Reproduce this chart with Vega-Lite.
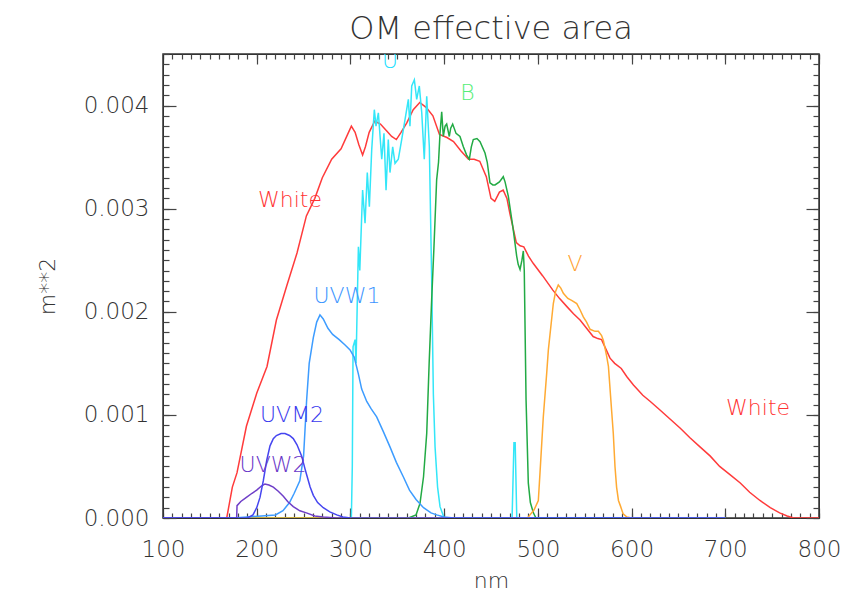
{
  "$schema": "https://vega.github.io/schema/vega-lite/v6.json",
  "autosize": "none",
  "width": 656,
  "height": 464,
  "padding": {"left": 163, "top": 54, "right": 42, "bottom": 75},
  "background": "white",
  "title": {"text": "OM effective area", "fontSize": 32, "font": "DejaVu Sans", "fontWeight": 200, "color": "#333", "anchor": "middle", "offset": 7},
  "config": {
    "view": {"stroke": "#333", "strokeWidth": 1.5},
    "axis": {"grid": false, "domainColor": "#333", "tickColor": "#444", "labelColor": "#333", "titleColor": "#333", "labelFont": "DejaVu Sans", "titleFont": "DejaVu Sans", "labelFontSize": 23, "titleFontSize": 22, "labelFontWeight": 200, "titleFontWeight": 200, "tickWidth": 1.2}
  },
  "datasets": {
    "white": [
      {"nm": 100, "a": 0}, {"nm": 168, "a": 0}, {"nm": 174, "a": 0.0003}, {"nm": 179, "a": 0.00044}, {"nm": 189, "a": 0.00089}, {"nm": 200, "a": 0.00121}, {"nm": 211, "a": 0.00147}, {"nm": 221, "a": 0.00192}, {"nm": 232, "a": 0.00225}, {"nm": 243, "a": 0.00257}, {"nm": 253, "a": 0.00293}, {"nm": 262, "a": 0.0031}, {"nm": 270, "a": 0.0033}, {"nm": 280, "a": 0.00348}, {"nm": 290, "a": 0.00358}, {"nm": 297, "a": 0.00372}, {"nm": 301, "a": 0.0038}, {"nm": 305, "a": 0.00374}, {"nm": 309, "a": 0.00362}, {"nm": 313, "a": 0.00352}, {"nm": 316, "a": 0.0036}, {"nm": 320, "a": 0.00374}, {"nm": 326, "a": 0.00385}, {"nm": 332, "a": 0.00382}, {"nm": 339, "a": 0.00375}, {"nm": 344, "a": 0.0037}, {"nm": 349, "a": 0.00367}, {"nm": 354, "a": 0.00374}, {"nm": 360, "a": 0.00383}, {"nm": 367, "a": 0.00396}, {"nm": 374, "a": 0.00403}, {"nm": 381, "a": 0.00398}, {"nm": 388, "a": 0.0039}, {"nm": 395, "a": 0.00372}, {"nm": 403, "a": 0.00369}, {"nm": 410, "a": 0.00365}, {"nm": 418, "a": 0.00356}, {"nm": 426, "a": 0.00348}, {"nm": 432, "a": 0.00348}, {"nm": 438, "a": 0.00346}, {"nm": 445, "a": 0.00331}, {"nm": 450, "a": 0.0031}, {"nm": 454, "a": 0.00307}, {"nm": 459, "a": 0.00316}, {"nm": 463, "a": 0.00318}, {"nm": 467, "a": 0.0031}, {"nm": 470, "a": 0.00296}, {"nm": 477, "a": 0.00267}, {"nm": 481, "a": 0.00264}, {"nm": 485, "a": 0.00263}, {"nm": 490, "a": 0.00254}, {"nm": 495, "a": 0.00247}, {"nm": 505, "a": 0.00235}, {"nm": 516, "a": 0.00221}, {"nm": 523, "a": 0.00213}, {"nm": 531, "a": 0.00205}, {"nm": 538, "a": 0.00198}, {"nm": 545, "a": 0.00192}, {"nm": 552, "a": 0.00184}, {"nm": 559, "a": 0.00176}, {"nm": 564, "a": 0.00174}, {"nm": 568, "a": 0.00173}, {"nm": 572, "a": 0.00165}, {"nm": 577, "a": 0.00155}, {"nm": 582, "a": 0.0015}, {"nm": 589, "a": 0.00145}, {"nm": 595, "a": 0.00137}, {"nm": 602, "a": 0.00129}, {"nm": 612, "a": 0.00119}, {"nm": 620, "a": 0.00113}, {"nm": 630, "a": 0.00105}, {"nm": 641, "a": 0.00096}, {"nm": 652, "a": 0.00087}, {"nm": 662, "a": 0.00078}, {"nm": 673, "a": 0.00069}, {"nm": 684, "a": 0.0006}, {"nm": 694, "a": 0.0005}, {"nm": 705, "a": 0.00042}, {"nm": 716, "a": 0.00034}, {"nm": 726, "a": 0.00025}, {"nm": 737, "a": 0.00017}, {"nm": 748, "a": 0.0001}, {"nm": 758, "a": 0.00005}, {"nm": 766, "a": 0.00002}, {"nm": 773, "a": 0}, {"nm": 800, "a": 0}
    ],
    "u": [
      {"nm": 100, "a": 0}, {"nm": 301, "a": 0}, {"nm": 302, "a": 0.0005}, {"nm": 302.8, "a": 0.00166}, {"nm": 305, "a": 0.00173}, {"nm": 306, "a": 0.0015}, {"nm": 308.5, "a": 0.00263}, {"nm": 310, "a": 0.0024}, {"nm": 313, "a": 0.00318}, {"nm": 315.6, "a": 0.00286}, {"nm": 318, "a": 0.00335}, {"nm": 320.2, "a": 0.00302}, {"nm": 322.7, "a": 0.00357}, {"nm": 325.5, "a": 0.00396}, {"nm": 327.3, "a": 0.0038}, {"nm": 329.8, "a": 0.00393}, {"nm": 333.4, "a": 0.00348}, {"nm": 335.8, "a": 0.00373}, {"nm": 338, "a": 0.00318}, {"nm": 340.4, "a": 0.00367}, {"nm": 342.2, "a": 0.00335}, {"nm": 345.1, "a": 0.0036}, {"nm": 347.6, "a": 0.00344}, {"nm": 351.1, "a": 0.00348}, {"nm": 354.7, "a": 0.00367}, {"nm": 358.2, "a": 0.00386}, {"nm": 361.8, "a": 0.00406}, {"nm": 363.5, "a": 0.0038}, {"nm": 365.4, "a": 0.00419}, {"nm": 368.2, "a": 0.00425}, {"nm": 370.7, "a": 0.00406}, {"nm": 373.5, "a": 0.00419}, {"nm": 376.1, "a": 0.00393}, {"nm": 378.8, "a": 0.00348}, {"nm": 381.4, "a": 0.00409}, {"nm": 384.2, "a": 0.0036}, {"nm": 386.7, "a": 0.00231}, {"nm": 388.5, "a": 0.0012}, {"nm": 390.3, "a": 0.00069}, {"nm": 393, "a": 0.0003}, {"nm": 395.6, "a": 0.00011}, {"nm": 400, "a": 0}, {"nm": 472.5, "a": 0}, {"nm": 474.5, "a": 0.00073}, {"nm": 475.8, "a": 0.00073}, {"nm": 477.5, "a": 0}, {"nm": 700, "a": 0}
    ],
    "b": [
      {"nm": 100, "a": 0}, {"nm": 362, "a": 0}, {"nm": 370, "a": 0.00003}, {"nm": 374.2, "a": 0.00014}, {"nm": 378, "a": 0.0004}, {"nm": 381.4, "a": 0.00082}, {"nm": 384, "a": 0.0015}, {"nm": 386.7, "a": 0.00212}, {"nm": 389, "a": 0.0026}, {"nm": 392, "a": 0.00328}, {"nm": 394, "a": 0.00345}, {"nm": 395.6, "a": 0.00373}, {"nm": 397.4, "a": 0.00394}, {"nm": 399.1, "a": 0.0037}, {"nm": 401, "a": 0.0038}, {"nm": 402.7, "a": 0.00382}, {"nm": 405.5, "a": 0.0037}, {"nm": 407, "a": 0.00378}, {"nm": 409.1, "a": 0.00382}, {"nm": 412.7, "a": 0.00373}, {"nm": 416.9, "a": 0.0037}, {"nm": 420.5, "a": 0.0036}, {"nm": 424, "a": 0.00352}, {"nm": 426.9, "a": 0.00348}, {"nm": 429, "a": 0.0036}, {"nm": 431.1, "a": 0.00367}, {"nm": 435, "a": 0.00368}, {"nm": 438.3, "a": 0.00365}, {"nm": 443.6, "a": 0.00354}, {"nm": 446, "a": 0.00345}, {"nm": 448.9, "a": 0.00325}, {"nm": 452, "a": 0.00323}, {"nm": 454.3, "a": 0.00323}, {"nm": 459, "a": 0.00326}, {"nm": 463.1, "a": 0.00331}, {"nm": 465, "a": 0.00326}, {"nm": 468.5, "a": 0.00312}, {"nm": 473.2, "a": 0.00283}, {"nm": 477.4, "a": 0.00254}, {"nm": 479, "a": 0.00246}, {"nm": 481, "a": 0.00241}, {"nm": 483, "a": 0.0025}, {"nm": 484.5, "a": 0.00259}, {"nm": 485.5, "a": 0.0024}, {"nm": 487.4, "a": 0.00115}, {"nm": 489.8, "a": 0.00034}, {"nm": 492, "a": 0.00015}, {"nm": 495.2, "a": 0.00005}, {"nm": 498, "a": 0}, {"nm": 700, "a": 0}
    ],
    "v": [
      {"nm": 100, "a": 0}, {"nm": 489, "a": 0}, {"nm": 491.6, "a": 0.00003}, {"nm": 496, "a": 0.00008}, {"nm": 500.5, "a": 0.00017}, {"nm": 502.3, "a": 0.00044}, {"nm": 505.8, "a": 0.00098}, {"nm": 509.4, "a": 0.0014}, {"nm": 511.2, "a": 0.00163}, {"nm": 516.5, "a": 0.00208}, {"nm": 519, "a": 0.0022}, {"nm": 521.8, "a": 0.00226}, {"nm": 524.5, "a": 0.00223}, {"nm": 527.2, "a": 0.00218}, {"nm": 532, "a": 0.00213}, {"nm": 536, "a": 0.00211}, {"nm": 541.5, "a": 0.00208}, {"nm": 545, "a": 0.00202}, {"nm": 548.5, "a": 0.00195}, {"nm": 552, "a": 0.0019}, {"nm": 555.7, "a": 0.00183}, {"nm": 561, "a": 0.00181}, {"nm": 564.6, "a": 0.00181}, {"nm": 568, "a": 0.00177}, {"nm": 570, "a": 0.00172}, {"nm": 573.4, "a": 0.00157}, {"nm": 575.3, "a": 0.00147}, {"nm": 578.8, "a": 0.00103}, {"nm": 580.5, "a": 0.00082}, {"nm": 582.3, "a": 0.0005}, {"nm": 584, "a": 0.0003}, {"nm": 586, "a": 0.00017}, {"nm": 588, "a": 0.00012}, {"nm": 591, "a": 0.00004}, {"nm": 595, "a": 0.00001}, {"nm": 600, "a": 0}, {"nm": 700, "a": 0}
    ],
    "uvw1": [
      {"nm": 100, "a": 0}, {"nm": 175, "a": 0}, {"nm": 190, "a": 0.00001}, {"nm": 205, "a": 0.00002}, {"nm": 220, "a": 0.00003}, {"nm": 228, "a": 0.00007}, {"nm": 235, "a": 0.00015}, {"nm": 240, "a": 0.00024}, {"nm": 246, "a": 0.00036}, {"nm": 250, "a": 0.0006}, {"nm": 253.3, "a": 0.00115}, {"nm": 256, "a": 0.0015}, {"nm": 260.4, "a": 0.00175}, {"nm": 264, "a": 0.0019}, {"nm": 267.5, "a": 0.00197}, {"nm": 271, "a": 0.00193}, {"nm": 276, "a": 0.00184}, {"nm": 281, "a": 0.00178}, {"nm": 288, "a": 0.00173}, {"nm": 294, "a": 0.00168}, {"nm": 299.6, "a": 0.00163}, {"nm": 304, "a": 0.00156}, {"nm": 308.4, "a": 0.0014}, {"nm": 312, "a": 0.00125}, {"nm": 317.4, "a": 0.00113}, {"nm": 322, "a": 0.00106}, {"nm": 328, "a": 0.00098}, {"nm": 335, "a": 0.00084}, {"nm": 342.2, "a": 0.00069}, {"nm": 349, "a": 0.00054}, {"nm": 356.4, "a": 0.0004}, {"nm": 363, "a": 0.00027}, {"nm": 370, "a": 0.00018}, {"nm": 378, "a": 0.0001}, {"nm": 386, "a": 0.00005}, {"nm": 392, "a": 0.00003}, {"nm": 400, "a": 0.00001}, {"nm": 410, "a": 0}, {"nm": 700, "a": 0}
    ],
    "uvw2": [
      {"nm": 100, "a": 0}, {"nm": 178.6, "a": 0}, {"nm": 179, "a": 0.00012}, {"nm": 183, "a": 0.00016}, {"nm": 189, "a": 0.0002}, {"nm": 195, "a": 0.00024}, {"nm": 200, "a": 0.00027}, {"nm": 205, "a": 0.00031}, {"nm": 208.8, "a": 0.00033}, {"nm": 213, "a": 0.00032}, {"nm": 217.7, "a": 0.0003}, {"nm": 223, "a": 0.00026}, {"nm": 228.4, "a": 0.00021}, {"nm": 233, "a": 0.00016}, {"nm": 239, "a": 0.00011}, {"nm": 246, "a": 0.00007}, {"nm": 253, "a": 0.00005}, {"nm": 262, "a": 0.00002}, {"nm": 271, "a": 0.00001}, {"nm": 285, "a": 0}, {"nm": 300, "a": 0}
    ],
    "uvm2": [
      {"nm": 100, "a": 0}, {"nm": 190, "a": 0}, {"nm": 196, "a": 0.00003}, {"nm": 200, "a": 0.0001}, {"nm": 203.5, "a": 0.0002}, {"nm": 207, "a": 0.00036}, {"nm": 210.7, "a": 0.00056}, {"nm": 214.2, "a": 0.0007}, {"nm": 217.7, "a": 0.00077}, {"nm": 221, "a": 0.0008}, {"nm": 226, "a": 0.00082}, {"nm": 230.2, "a": 0.00082}, {"nm": 235, "a": 0.0008}, {"nm": 239, "a": 0.00077}, {"nm": 243, "a": 0.00071}, {"nm": 248, "a": 0.0006}, {"nm": 252, "a": 0.00046}, {"nm": 257, "a": 0.0003}, {"nm": 260.4, "a": 0.00022}, {"nm": 265, "a": 0.00015}, {"nm": 271, "a": 0.0001}, {"nm": 278, "a": 0.00006}, {"nm": 285.4, "a": 0.00003}, {"nm": 292, "a": 0.00001}, {"nm": 300, "a": 0}, {"nm": 700, "a": 0}
    ],
    "labels": [
      {"series": "White", "txt": "White", "nm": 235.5, "a": 0.00308},
      {"series": "White", "txt": "White", "nm": 735, "a": 0.00107},
      {"series": "U", "txt": "U", "nm": 342.2, "a": 0.00443},
      {"series": "B", "txt": "B", "nm": 425, "a": 0.00412},
      {"series": "V", "txt": "V", "nm": 539.6, "a": 0.00246},
      {"series": "UVW1", "txt": "UVW1", "nm": 296.3, "a": 0.00215},
      {"series": "UVM2", "txt": "UVM2", "nm": 237.7, "a": 0.001},
      {"series": "UVW2", "txt": "UVW2", "nm": 217.4, "a": 0.00051}
    ]
  },
  "resolve": {"axis": {"x": "independent", "y": "independent"}},
  "layer": [
    {
      "data": {"name": "white"},
      "mark": {"type": "line", "color": "#ff3b3b", "strokeWidth": 1.5, "clip": true},
      "encoding": {
        "x": {"field": "nm", "type": "quantitative", "scale": {"domain": [100, 800], "nice": false, "zero": false},
          "axis": {"orient": "bottom", "values": [100, 200, 300, 400, 500, 600, 700, 800], "tickSize": -10, "labelPadding": 30, "title": "nm", "titlePadding": 9, "labelFlush": false, "labelOverlap": false}},
        "y": {"field": "a", "type": "quantitative", "scale": {"domain": [0, 0.0045], "nice": false, "zero": false},
          "axis": {"orient": "left", "values": [0, 0.001, 0.002, 0.003, 0.004], "format": ".3f", "tickSize": -13, "labelPadding": 27, "title": "m**2", "titlePadding": 24, "labelFlush": false, "labelOverlap": false}}
      }
    },
    {
      "data": {"name": "u"},
      "mark": {"type": "line", "color": "#33e6f8", "strokeWidth": 1.5, "clip": true},
      "encoding": {
        "x": {"field": "nm", "type": "quantitative", "scale": {"domain": [100, 800], "nice": false, "zero": false},
          "axis": {"orient": "bottom", "values": [100,110,120,130,140,150,160,170,180,190,200,210,220,230,240,250,260,270,280,290,300,310,320,330,340,350,360,370,380,390,400,410,420,430,440,450,460,470,480,490,500,510,520,530,540,550,560,570,580,590,600,610,620,630,640,650,660,670,680,690,700,710,720,730,740,750,760,770,780,790,800], "tickSize": -5, "labels": false, "domain": false, "title": null}},
        "y": {"field": "a", "type": "quantitative", "scale": {"domain": [0, 0.0045], "nice": false, "zero": false},
          "axis": {"orient": "left", "values": [0,0.0001,0.0002,0.0003,0.0004,0.0005,0.0006,0.0007,0.0008,0.0009,0.001,0.0011,0.0012,0.0013,0.0014,0.0015,0.0016,0.0017,0.0018,0.0019,0.002,0.0021,0.0022,0.0023,0.0024,0.0025,0.0026,0.0027,0.0028,0.0029,0.003,0.0031,0.0032,0.0033,0.0034,0.0035,0.0036,0.0037,0.0038,0.0039,0.004,0.0041,0.0042,0.0043,0.0044,0.0045], "tickSize": -6, "labels": false, "domain": false, "title": null}}
      }
    },
    {
      "data": {"name": "b"},
      "mark": {"type": "line", "color": "#22aa44", "strokeWidth": 1.5, "clip": true},
      "encoding": {
        "x": {"field": "nm", "type": "quantitative", "scale": {"domain": [100, 800], "nice": false, "zero": false},
          "axis": {"orient": "top", "values": [100, 200, 300, 400, 500, 600, 700, 800], "tickSize": -10, "labels": false, "title": null}},
        "y": {"field": "a", "type": "quantitative", "scale": {"domain": [0, 0.0045], "nice": false, "zero": false},
          "axis": {"orient": "right", "values": [0, 0.001, 0.002, 0.003, 0.004], "tickSize": -13, "labels": false, "title": null}}
      }
    },
    {
      "data": {"name": "v"},
      "mark": {"type": "line", "color": "#ffaa33", "strokeWidth": 1.5, "clip": true},
      "encoding": {
        "x": {"field": "nm", "type": "quantitative", "scale": {"domain": [100, 800], "nice": false, "zero": false},
          "axis": {"orient": "top", "values": [100,110,120,130,140,150,160,170,180,190,200,210,220,230,240,250,260,270,280,290,300,310,320,330,340,350,360,370,380,390,400,410,420,430,440,450,460,470,480,490,500,510,520,530,540,550,560,570,580,590,600,610,620,630,640,650,660,670,680,690,700,710,720,730,740,750,760,770,780,790,800], "tickSize": -5, "labels": false, "domain": false, "title": null}},
        "y": {"field": "a", "type": "quantitative", "scale": {"domain": [0, 0.0045], "nice": false, "zero": false},
          "axis": {"orient": "right", "values": [0,0.0001,0.0002,0.0003,0.0004,0.0005,0.0006,0.0007,0.0008,0.0009,0.001,0.0011,0.0012,0.0013,0.0014,0.0015,0.0016,0.0017,0.0018,0.0019,0.002,0.0021,0.0022,0.0023,0.0024,0.0025,0.0026,0.0027,0.0028,0.0029,0.003,0.0031,0.0032,0.0033,0.0034,0.0035,0.0036,0.0037,0.0038,0.0039,0.004,0.0041,0.0042,0.0043,0.0044,0.0045], "tickSize": -6, "labels": false, "domain": false, "title": null}}
      }
    },
    {
      "data": {"name": "uvw1"},
      "mark": {"type": "line", "color": "#3d9cff", "strokeWidth": 1.5, "clip": true},
      "encoding": {
        "x": {"field": "nm", "type": "quantitative", "axis": null},
        "y": {"field": "a", "type": "quantitative", "axis": null}
      }
    },
    {
      "data": {"name": "uvw2"},
      "mark": {"type": "line", "color": "#6f3fc8", "strokeWidth": 1.5, "clip": true},
      "encoding": {
        "x": {"field": "nm", "type": "quantitative", "axis": null},
        "y": {"field": "a", "type": "quantitative", "axis": null}
      }
    },
    {
      "data": {"name": "uvm2"},
      "mark": {"type": "line", "color": "#4646f0", "strokeWidth": 1.5, "clip": true},
      "encoding": {
        "x": {"field": "nm", "type": "quantitative", "axis": null},
        "y": {"field": "a", "type": "quantitative", "axis": null}
      }
    },
    {
      "data": {"name": "labels"},
      "mark": {"type": "text", "font": "DejaVu Sans", "fontSize": 22, "fontWeight": 200, "align": "center", "baseline": "middle", "clip": true},
      "encoding": {
        "x": {"field": "nm", "type": "quantitative", "axis": null},
        "y": {"field": "a", "type": "quantitative", "axis": null},
        "text": {"field": "txt"},
        "color": {"field": "series", "type": "nominal", "legend": null,
          "scale": {"domain": ["White", "U", "B", "V", "UVW1", "UVM2", "UVW2"], "range": ["#ff3333", "#22e0ff", "#55ee77", "#ffa030", "#3d95ff", "#3a3aee", "#6a38c8"]}}
      }
    }
  ]
}
